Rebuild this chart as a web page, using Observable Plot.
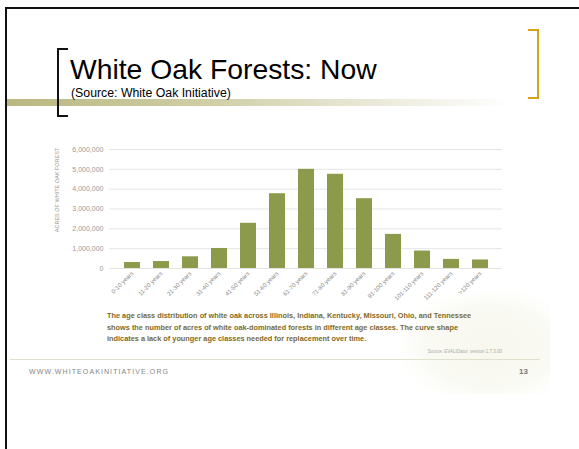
<!DOCTYPE html>
<html>
<head>
<meta charset="utf-8">
<script src="https://cdn.jsdelivr.net/npm/d3@7"></script>
<script src="https://cdn.jsdelivr.net/npm/@observablehq/plot@0.6"></script>
<style>
  html, body { margin: 0; padding: 0; background: #fff; }
  #page { position: relative; width: 579px; height: 449px; overflow: hidden; background: #fff; font-family: "Liberation Sans", Arial, sans-serif; }
  .abs { position: absolute; }
  .t { position: absolute; white-space: nowrap; line-height: 1; }
</style>
</head>
<body>
<div id="page">
  <!-- slide frame -->
  <div class="abs" style="left:5px; top:7px; width:574px; height:2px; background:#111;"></div>
  <div class="abs" style="left:5px; top:7px; width:2px; height:442px; background:#111;"></div>
  <!-- gradient band under title -->
  <div class="abs" style="left:7px; top:99px; width:505px; height:7px; background:linear-gradient(to right, #b9b880 0%, #cfcea6 40%, #ecebdc 75%, rgba(255,255,255,0) 100%);"></div>
  <!-- left black bracket -->
  <div class="abs" style="left:57px; top:48px; width:2px; height:69px; background:#111;"></div>
  <div class="abs" style="left:57px; top:48px; width:11px; height:2px; background:#111;"></div>
  <div class="abs" style="left:57px; top:115px; width:11px; height:2px; background:#111;"></div>
  <!-- right gold bracket -->
  <div class="abs" style="left:537px; top:29px; width:2px; height:70px; background:#d4a31c;"></div>
  <div class="abs" style="left:528px; top:29px; width:11px; height:2px; background:#d4a31c;"></div>
  <div class="abs" style="left:528px; top:97px; width:11px; height:2px; background:#d4a31c;"></div>
  <!-- faint leaf watermark area -->
  <div class="abs" style="left:400px; top:290px; width:150px; height:104px; background:radial-gradient(ellipse at 60% 55%, #f7f7ee 0%, #fafaf4 50%, rgba(255,255,255,0) 75%);"></div>

  <div class="t" style="left:70px; top:55px; font-size:28.3px; color:#000;">White Oak Forests: Now</div>
  <div class="t" style="left:71px; top:87px; font-size:12.3px; color:#000;">(Source: White Oak Initiative)</div>

  <div id="chart" class="abs" style="left:40px; top:140px;"></div>

  <div class="abs" style="left:107px; top:310px; font-size:7.35px; line-height:11.5px; color:#7c6a2c; font-weight:bold; white-space:nowrap;">
    The age class distribution of white oak across Illinois, Indiana, Kentucky, Missouri, Ohio, and Tennessee<br>
    shows the number of acres of white oak-dominated forests in different age classes. The curve shape<br>
    indicates a lack of younger age classes needed for replacement over time.
  </div>
  <div class="t" style="right:77px; top:350px; font-size:4.5px; color:#aaa;">Source: EVALIDator, version 1.7.3.00</div>
  <div class="abs" style="left:10px; top:359px; width:530px; height:1px; background:#dfe1cf;"></div>
  <div class="t" style="left:29px; top:368px; font-size:7px; letter-spacing:1.1px; color:#858585;">WWW.WHITEOAKINITIATIVE.ORG</div>
  <div class="t" style="left:519px; top:368px; font-size:8px; font-weight:bold; color:#777;">13</div>
</div>
<script>
const ageClasses = ["0-10 years", "11-20 years", "21-30 years", "31-40 years", "41-50 years", "51-60 years", "61-70 years", "71-80 years", "81-90 years", "91-100 years", "101-110 years", "111-120 years", ">120 years"];
const acres = [300000, 350000, 590000, 1010000, 2280000, 3770000, 5000000, 4750000, 3520000, 1720000, 880000, 460000, 430000];
const yTicks = [0, 1000000, 2000000, 3000000, 4000000, 5000000, 6000000];
const yAxisLabel = "ACRES OF WHITE OAK FOREST";

const data = ageClasses.map((a, i) => ({age: a, acres: acres[i]}));

const chart = Plot.plot({
  width: 480,
  height: 170,
  marginLeft: 69,
  marginRight: 18,
  marginTop: 9,
  marginBottom: 42,
  style: {fontFamily: "'Liberation Sans', Arial, sans-serif", background: "transparent", color: "#999"},
  x: {domain: ageClasses, paddingInner: 0.46, paddingOuter: 0.37, label: null},
  y: {domain: [0, 6000000], label: null},
  marks: [
    Plot.gridY(yTicks, {stroke: "#e4e4e4", strokeOpacity: 1}),
    Plot.barY(data, {x: "age", y: "acres", fill: "#8b9b4b"}),
    Plot.axisX({tickSize: 0, tickPadding: 4, tickRotate: -45, fontSize: 6, fill: "#888", label: null}),
    Plot.axisY(yTicks, {tickSize: 0, tickPadding: 6, tickFormat: d3.format(","), fontSize: 7, fill: "#999", label: null}),
    Plot.text([yAxisLabel], {frameAnchor: "left", dx: -52, dy: -19, rotate: -90, textAnchor: "middle", fontSize: 5.5, fill: "#999"})
  ]
});
document.getElementById("chart").appendChild(chart);
</script>
</body>
</html>
